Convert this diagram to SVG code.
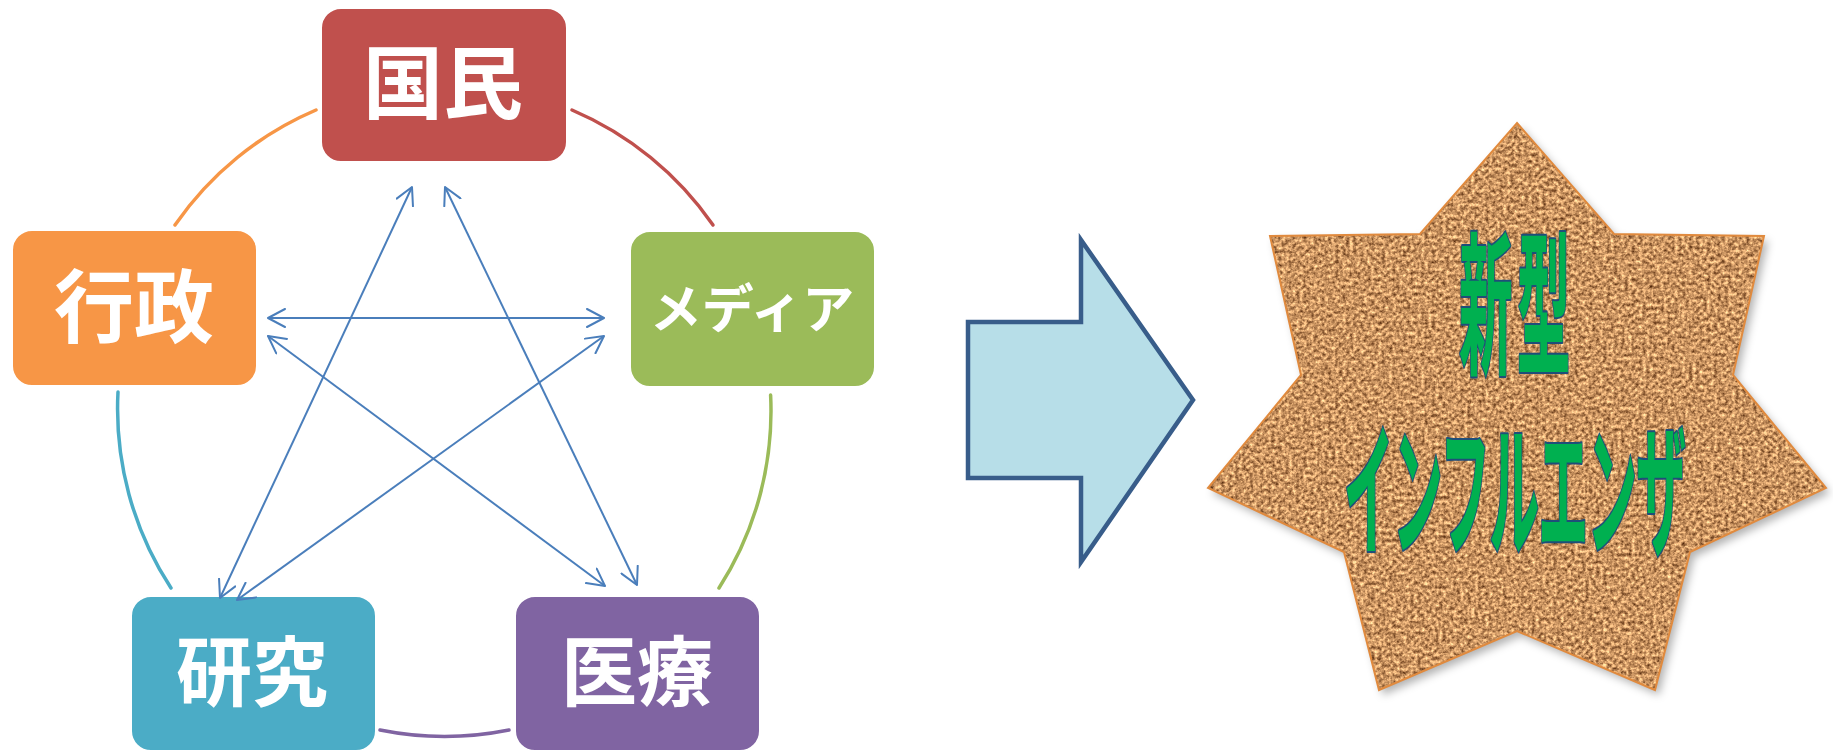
<svg xmlns="http://www.w3.org/2000/svg" width="1833" height="752" viewBox="0 0 1833 752">
<defs>
<style>
.box rect{stroke:#fff;stroke-width:2;}
.box text{font-family:"Noto Sans CJK JP","Noto Sans CJK SC",sans-serif;font-weight:bold;fill:#fff;text-anchor:middle;}
.conn line{stroke:#4A7EBB;stroke-width:2;fill:none;marker-start:url(#ah);marker-end:url(#ah);}
.arc{fill:none;stroke-width:3.5;stroke-linecap:round;}
.star-text{font-family:"Liberation Sans","Noto Sans CJK JP","Noto Sans CJK SC",sans-serif;font-weight:bold;text-anchor:middle;fill:#00B050;stroke:#1F4E79;stroke-width:4;stroke-linejoin:round;paint-order:stroke fill;vector-effect:non-scaling-stroke;}
</style>
<marker id="ah" viewBox="0 0 20 20" refX="18" refY="10" markerWidth="20" markerHeight="20" markerUnits="userSpaceOnUse" orient="auto-start-reverse">
<path d="M1,1 L18,10 L1,19" fill="none" stroke="#4A7EBB" stroke-width="2" stroke-linejoin="round" stroke-linecap="round"/>
</marker>
<filter id="cork" x="0" y="0" width="1" height="1" color-interpolation-filters="sRGB">
<feTurbulence type="fractalNoise" baseFrequency="0.28" numOctaves="3" seed="11" result="n"/>
<feColorMatrix in="n" type="matrix" values="1.1 0 0 0 0.24  1.0 0 0 0 0.08  0.8 0 0 0 -0.02  0 0 0 0 1" result="c"/>
<feComposite in="c" in2="SourceGraphic" operator="in"/>
</filter>
<filter id="shadow" x="-0.1" y="-0.1" width="1.2" height="1.2">
<feGaussianBlur stdDeviation="4"/>
</filter>
</defs>

<g id="cycle-arcs">
<path class="arc" stroke="#F79646" d="M175,225 A327,327 0 0 1 316,110"/>
<path class="arc" stroke="#C0504D" d="M572,110 A327,327 0 0 1 713,225"/>
<path class="arc" stroke="#9BBB59" d="M770.6,395 A327,327 0 0 1 719,588"/>
<path class="arc" stroke="#8064A2" d="M509,730 A327,327 0 0 1 380,730"/>
<path class="arc" stroke="#4BACC6" d="M171,588 A327,327 0 0 1 118,392"/>
</g>

<g id="node-kokumin" class="box">
<rect x="321" y="8" width="246" height="154" rx="20" fill="#C0504D"/>
<text x="443" y="112" font-size="80">国民</text>
</g>
<g id="node-gyousei" class="box">
<rect x="12" y="230" width="245" height="156" rx="20" fill="#F79646"/>
<text x="134" y="336" font-size="80">行政</text>
</g>
<g id="node-media" class="box">
<rect x="630" y="231" width="245" height="156" rx="20" fill="#9BBB59"/>
<text x="752" y="328" font-size="52">メディア</text>
</g>
<g id="node-kenkyu" class="box">
<rect x="131" y="596" width="245" height="155" rx="20" fill="#4BACC6"/>
<text x="252" y="700" font-size="76">研究</text>
</g>
<g id="node-iryou" class="box">
<rect x="515" y="596" width="245" height="155" rx="20" fill="#8064A2"/>
<text x="637" y="700" font-size="76">医療</text>
</g>

<g id="connectors" class="conn">
<line x1="412" y1="187" x2="220" y2="598"/>
<line x1="445" y1="187" x2="637" y2="585"/>
<line x1="268" y1="318" x2="604" y2="318"/>
<line x1="268" y1="336" x2="605" y2="586"/>
<line x1="604" y1="336" x2="237" y2="600"/>
</g>

<g id="big-arrow">
<polygon points="968,322 1081,322 1081,240 1193,400 1081,562 1081,478 968,478" fill="#B7DEE8" stroke="#385D8A" stroke-width="4.5" stroke-linejoin="miter"/>
</g>

<g id="star">
<polygon transform="translate(4,5)" filter="url(#shadow)" fill="#000" fill-opacity="0.3" points="1517,123 1614,234 1764,236 1733,375 1826,488 1690,552 1655,690 1517,631 1379,690 1344,552 1208,488 1301,375 1270,236 1420,234"/>
<polygon filter="url(#cork)" fill="#C48A55" points="1517,123 1614,234 1764,236 1733,375 1826,488 1690,552 1655,690 1517,631 1379,690 1344,552 1208,488 1301,375 1270,236 1420,234"/>
<polygon fill="none" stroke="#E08A3E" stroke-width="2" stroke-linejoin="miter" points="1517,123 1614,234 1764,236 1733,375 1826,488 1690,552 1655,690 1517,631 1379,690 1344,552 1208,488 1301,375 1270,236 1420,234"/>
<text class="star-text" transform="scale(0.345,1)"><tspan x="4397" y="362" font-size="155" letter-spacing="13">新型</tspan><tspan x="4390" y="545" font-size="145" letter-spacing="-3">インフルエンザ</tspan></text>
</g>
</svg>
